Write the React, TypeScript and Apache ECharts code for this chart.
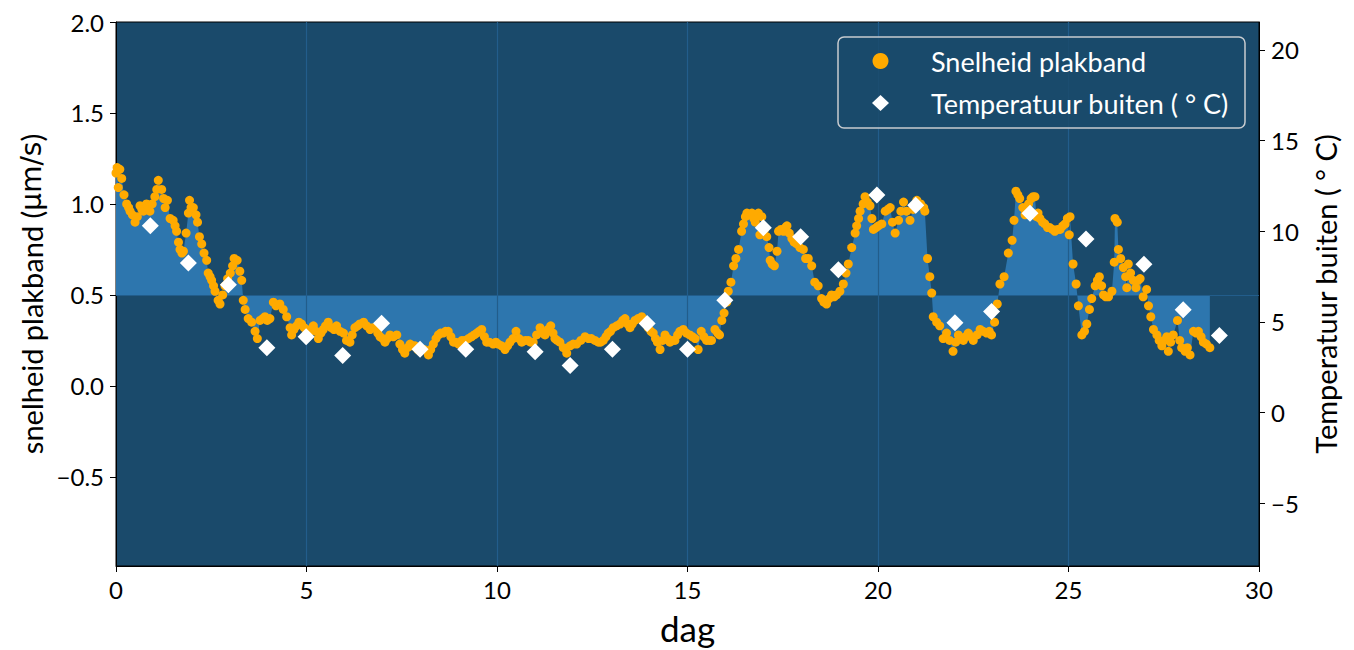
import React, { useEffect, useRef } from 'react';
import * as echarts from 'echarts';

// Speed of the tape (µm/s) as [day, value], split per period
const speedDays0to6: [number, number][] = [
  [0.0, 1.17], [0.03, 1.2], [0.06, 1.09], [0.1, 1.19], [0.15, 1.14], [0.21, 1.05], [0.28, 1.0], [0.33, 0.98],
  [0.37, 0.96], [0.43, 0.94], [0.5, 0.9], [0.56, 0.93], [0.63, 0.99], [0.68, 0.97], [0.72, 0.96], [0.8, 1.0],
  [0.85, 0.98], [0.89, 0.96], [0.95, 1.0], [1.02, 1.04], [1.07, 1.08], [1.11, 1.13], [1.2, 1.08], [1.25, 1.03],
  [1.29, 0.98], [1.35, 1.02], [1.42, 0.92], [1.5, 0.91], [1.55, 0.88], [1.59, 0.85], [1.64, 0.79], [1.68, 0.75],
  [1.73, 0.73], [1.77, 0.74], [1.84, 0.84], [1.9, 0.95], [1.93, 1.02], [1.97, 0.98], [2.03, 0.98], [2.1, 0.94],
  [2.14, 0.9], [2.19, 0.82], [2.25, 0.78], [2.31, 0.73], [2.38, 0.69], [2.42, 0.62], [2.47, 0.6], [2.51, 0.58],
  [2.56, 0.55], [2.6, 0.52], [2.68, 0.47], [2.73, 0.45], [2.8, 0.5], [2.86, 0.55], [2.93, 0.59], [3.0, 0.62],
  [3.06, 0.66], [3.1, 0.7], [3.18, 0.69], [3.25, 0.63], [3.3, 0.58], [3.34, 0.47], [3.39, 0.42], [3.47, 0.37],
  [3.56, 0.35], [3.65, 0.3], [3.71, 0.26], [3.78, 0.36], [3.85, 0.37], [3.91, 0.38], [3.97, 0.36], [4.04, 0.37],
  [4.13, 0.46], [4.2, 0.44], [4.3, 0.45], [4.39, 0.42], [4.48, 0.38], [4.57, 0.32], [4.61, 0.28], [4.67, 0.31],
  [4.74, 0.33], [4.8, 0.35], [4.87, 0.34], [4.94, 0.32], [5.0, 0.31], [5.09, 0.3], [5.18, 0.33], [5.25, 0.3],
  [5.31, 0.26], [5.38, 0.29], [5.44, 0.31], [5.5, 0.33], [5.57, 0.35], [5.65, 0.32], [5.72, 0.31], [5.79, 0.33],
  [5.88, 0.3], [5.97, 0.29],
];

const speedDays6to12: [number, number][] = [
  [6.05, 0.25], [6.14, 0.24], [6.2, 0.28], [6.27, 0.32], [6.34, 0.33], [6.4, 0.34], [6.5, 0.35], [6.58, 0.33],
  [6.67, 0.31], [6.74, 0.32], [6.8, 0.32], [6.87, 0.29], [6.93, 0.27], [7.0, 0.26], [7.06, 0.24], [7.12, 0.26],
  [7.19, 0.28], [7.28, 0.27], [7.37, 0.28], [7.45, 0.23], [7.52, 0.2], [7.58, 0.18], [7.65, 0.21], [7.72, 0.23],
  [7.78, 0.22], [7.85, 0.22], [7.92, 0.2], [7.98, 0.19], [8.08, 0.2], [8.2, 0.17], [8.26, 0.2], [8.33, 0.23],
  [8.4, 0.26], [8.46, 0.28], [8.52, 0.29], [8.59, 0.29], [8.65, 0.3], [8.72, 0.3], [8.79, 0.27], [8.86, 0.24],
  [8.92, 0.24], [8.99, 0.23], [9.08, 0.25], [9.16, 0.25], [9.25, 0.26], [9.33, 0.27], [9.4, 0.28], [9.47, 0.29],
  [9.53, 0.3], [9.6, 0.31], [9.67, 0.27], [9.73, 0.24], [9.8, 0.24], [9.9, 0.23], [9.97, 0.24], [10.03, 0.23],
  [10.12, 0.22], [10.21, 0.2], [10.28, 0.22], [10.34, 0.24], [10.42, 0.26], [10.5, 0.3], [10.58, 0.26], [10.65, 0.24],
  [10.74, 0.25], [10.82, 0.25], [10.88, 0.24], [10.95, 0.24], [11.04, 0.28], [11.13, 0.32], [11.2, 0.29], [11.26, 0.28],
  [11.34, 0.31], [11.41, 0.33], [11.47, 0.29], [11.52, 0.26], [11.58, 0.25], [11.65, 0.24], [11.74, 0.21], [11.83, 0.18],
  [11.92, 0.22], [12.0, 0.23],
];

const speedDays12to18: [number, number][] = [
  [12.09, 0.23], [12.2, 0.25], [12.31, 0.27], [12.4, 0.26], [12.48, 0.26], [12.57, 0.25], [12.66, 0.24], [12.72, 0.24],
  [12.79, 0.25], [12.86, 0.27], [12.92, 0.29], [12.98, 0.3], [13.05, 0.32], [13.14, 0.33], [13.23, 0.34], [13.3, 0.36],
  [13.36, 0.37], [13.43, 0.34], [13.49, 0.32], [13.55, 0.34], [13.62, 0.36], [13.7, 0.37], [13.8, 0.38], [13.88, 0.35],
  [13.97, 0.32], [14.04, 0.3], [14.1, 0.29], [14.16, 0.26], [14.21, 0.24], [14.28, 0.2], [14.35, 0.25], [14.41, 0.28],
  [14.48, 0.26], [14.54, 0.24], [14.6, 0.25], [14.67, 0.25], [14.74, 0.28], [14.8, 0.3], [14.89, 0.31], [14.97, 0.29],
  [15.06, 0.28], [15.13, 0.27], [15.2, 0.26], [15.28, 0.2], [15.36, 0.3], [15.43, 0.27], [15.5, 0.25], [15.57, 0.25],
  [15.63, 0.25], [15.72, 0.31], [15.79, 0.29], [15.84, 0.28], [15.9, 0.36], [15.96, 0.4], [16.03, 0.46], [16.07, 0.52],
  [16.14, 0.57], [16.21, 0.66], [16.27, 0.7], [16.34, 0.75], [16.42, 0.85], [16.47, 0.89], [16.52, 0.93], [16.56, 0.95],
  [16.62, 0.94], [16.69, 0.95], [16.74, 0.92], [16.78, 0.9], [16.82, 0.93], [16.86, 0.95], [16.9, 0.83], [16.95, 0.93],
  [17.02, 0.86], [17.08, 0.82], [17.14, 0.76], [17.17, 0.69], [17.22, 0.67], [17.28, 0.66], [17.35, 0.74], [17.39, 0.85],
  [17.45, 0.86], [17.52, 0.85], [17.57, 0.87], [17.61, 0.88], [17.67, 0.84], [17.74, 0.81], [17.8, 0.79], [17.87, 0.78],
  [17.95, 0.76], [18.04, 0.75],
];

const speedDays18to24: [number, number][] = [
  [18.1, 0.7], [18.17, 0.7], [18.26, 0.66], [18.34, 0.57], [18.43, 0.55], [18.52, 0.48], [18.58, 0.46], [18.65, 0.45],
  [18.72, 0.48], [18.78, 0.5], [18.85, 0.49], [18.91, 0.5], [19.0, 0.52], [19.09, 0.56], [19.16, 0.62], [19.22, 0.67],
  [19.31, 0.76], [19.4, 0.84], [19.44, 0.88], [19.49, 0.92], [19.53, 0.96], [19.61, 1.0], [19.66, 1.04], [19.72, 1.01],
  [19.79, 0.99], [19.84, 0.92], [19.88, 0.86], [19.95, 0.87], [20.01, 0.88], [20.1, 0.89], [20.19, 0.96], [20.26, 0.97],
  [20.32, 0.98], [20.38, 0.9], [20.45, 0.84], [20.54, 0.91], [20.6, 0.96], [20.67, 1.01], [20.75, 0.96], [20.84, 0.91],
  [20.92, 0.97], [21.02, 1.02], [21.12, 1.0], [21.2, 0.98], [21.23, 0.96], [21.3, 0.7], [21.36, 0.6], [21.41, 0.51],
  [21.45, 0.38], [21.54, 0.35], [21.62, 0.33], [21.71, 0.26], [21.8, 0.29], [21.88, 0.25], [21.97, 0.19], [22.04, 0.24],
  [22.11, 0.28], [22.18, 0.26], [22.24, 0.25], [22.3, 0.27], [22.37, 0.29], [22.44, 0.27], [22.5, 0.25], [22.6, 0.28],
  [22.68, 0.31], [22.76, 0.3], [22.85, 0.29], [22.92, 0.3], [22.98, 0.28], [23.06, 0.35], [23.13, 0.45], [23.2, 0.56],
  [23.31, 0.6], [23.42, 0.73], [23.52, 0.8], [23.57, 0.91], [23.62, 1.07], [23.67, 1.05], [23.72, 1.03], [23.8, 0.98],
  [23.86, 0.94], [23.95, 1.0], [24.02, 1.03], [24.07, 1.04],
];

const speedDays24to29: [number, number][] = [
  [24.12, 1.04], [24.16, 0.93], [24.2, 0.95], [24.25, 0.92], [24.32, 0.9], [24.38, 0.89], [24.45, 0.87], [24.51, 0.87],
  [24.58, 0.86], [24.64, 0.85], [24.71, 0.86], [24.78, 0.86], [24.85, 0.88], [24.91, 0.89], [24.97, 0.92], [25.02, 0.83],
  [25.04, 0.93], [25.12, 0.67], [25.2, 0.56], [25.26, 0.44], [25.35, 0.28], [25.42, 0.3], [25.48, 0.34], [25.55, 0.42],
  [25.61, 0.48], [25.7, 0.55], [25.76, 0.58], [25.81, 0.6], [25.87, 0.55], [25.92, 0.5], [25.98, 0.49], [26.05, 0.49],
  [26.14, 0.52], [26.2, 0.68], [26.22, 0.92], [26.28, 0.9], [26.31, 0.75], [26.37, 0.7], [26.44, 0.65], [26.5, 0.6],
  [26.53, 0.54], [26.57, 0.67], [26.63, 0.62], [26.7, 0.58], [26.77, 0.54], [26.83, 0.58], [26.88, 0.59], [26.96, 0.49],
  [27.05, 0.53], [27.1, 0.44], [27.16, 0.38], [27.23, 0.31], [27.32, 0.28], [27.38, 0.25], [27.45, 0.22], [27.52, 0.25],
  [27.58, 0.27], [27.62, 0.19], [27.68, 0.24], [27.75, 0.28], [27.86, 0.36], [27.92, 0.25], [27.97, 0.21], [28.06, 0.19],
  [28.12, 0.21], [28.19, 0.17], [28.28, 0.3], [28.35, 0.29], [28.41, 0.3], [28.48, 0.27], [28.54, 0.24], [28.62, 0.23],
  [28.71, 0.21],
];

// Outside temperature (°C), one reading per day
const tempDays = [0.9, 1.9, 2.95, 3.96, 4.99, 5.95, 6.97, 7.98, 9.18, 11.0, 11.92, 13.03, 13.94, 15.0, 15.98, 16.99,
  17.97, 18.96, 19.97, 20.99, 22.02, 22.98, 23.99, 25.46, 26.98, 28.01, 28.96];
const tempValues = [10.3, 8.25, 7.05, 3.58, 4.18, 3.15, 4.93, 3.5, 3.5, 3.35, 2.6, 3.5, 4.92, 3.5, 6.2, 10.2,
  9.7, 7.88, 12.0, 11.43, 4.96, 5.58, 11.0, 9.57, 8.18, 5.67, 4.25];

// Axes
const xTicks = [0, 5, 10, 15, 20, 25, 30];
const speedTicks = [-0.5, 0, 0.5, 1, 1.5, 2];
const tempTicks = [-5, 0, 5, 10, 15, 20];
const dayMarks = [5, 10, 15, 20, 25];
const speedBaseline = 0.5;

const SPEED_NAME = 'Snelheid plakband';
const TEMP_NAME = 'Temperatuur buiten ( ° C)';

export default function App() {
  const ref = useRef<HTMLDivElement>(null);

  useEffect(() => {
    if (!ref.current) return;
    const chart = echarts.init(ref.current, undefined, { renderer: 'svg' });
    const speed = [...speedDays0to6, ...speedDays6to12, ...speedDays12to18, ...speedDays18to24, ...speedDays24to29];
    const temps = tempDays.map((d, i) => [d, tempValues[i]]);
    const fmt = (v: number, digits: number) => (v < 0 ? '\u2212' : '') + Math.abs(v).toFixed(digits);

    const bg = '#1a4a6b';
    const fill = '#2d76ae';
    const markColor = '#225d8b';
    const font = 'Lato';

    chart.setOption({
      animation: false,
      backgroundColor: '#ffffff',
      textStyle: { fontFamily: font },
      grid: {
        left: 116, right: 95, top: 22, bottom: 84,
        show: true, backgroundColor: bg, borderColor: '#000', borderWidth: 1,
      },
      xAxis: {
        type: 'value', min: 0, max: 30, interval: 5,
        name: 'dag', nameLocation: 'middle', nameGap: 44,
        nameTextStyle: { fontSize: 35, color: '#000', fontFamily: font },
        axisLine: { show: true, onZero: false, lineStyle: { color: '#000', width: 1 } },
        axisTick: { show: true, inside: false, length: 6, lineStyle: { color: '#000', width: 1 } },
        axisLabel: { fontSize: 24, color: '#000', margin: 11, fontFamily: font, formatter: (v: number) => (xTicks.includes(v) ? String(v) : '') },
        splitLine: { show: false },
      },
      yAxis: [
        {
          type: 'value', min: -0.99, max: 2, position: 'left',
          name: '{a|snelheid plakband (}{b|µm/s}{a|)}', nameLocation: 'middle', nameRotate: 90, nameGap: 62,
          nameTextStyle: {
            color: '#000',
            rich: {
              a: { fontSize: 29, fontFamily: font, color: '#000' },
              b: { fontSize: 28, fontFamily: 'DejaVu Sans', color: '#000' },
            },
          },
          axisLine: { show: true, onZero: false, lineStyle: { color: '#000', width: 1 } },
          axisTick: { show: true, inside: false, length: 6, customValues: speedTicks, lineStyle: { color: '#000' } },
          axisLabel: { customValues: speedTicks, fontSize: 24, color: '#000', margin: 12, fontFamily: font, formatter: (v: number) => fmt(v, 1) },
          splitLine: { show: false },
        },
        {
          type: 'value', min: -8.46, max: 21.54, position: 'right',
          name: TEMP_NAME, nameLocation: 'middle', nameRotate: 90, nameGap: 52,
          nameTextStyle: { fontSize: 29, color: '#000', fontFamily: font },
          axisLine: { show: true, onZero: false, lineStyle: { color: '#000', width: 1 } },
          axisTick: { show: true, inside: false, length: 6, customValues: tempTicks, lineStyle: { color: '#000' } },
          axisLabel: { customValues: tempTicks, fontSize: 24, color: '#000', margin: 12, fontFamily: font, formatter: (v: number) => fmt(v, 0) },
          splitLine: { show: false },
        },
      ],
      legend: {
        orient: 'vertical', left: 872, top: 47, z: 8,
        itemWidth: 17, itemHeight: 16, itemGap: 14, padding: 0,
        textStyle: { color: '#ffffff', fontSize: 27, fontFamily: font, lineHeight: 28, padding: [0, 0, 0, 37] },
        data: [{ name: SPEED_NAME, icon: 'circle' }, { name: TEMP_NAME, icon: 'diamond' }],
      },
      graphic: [
        {
          type: 'rect', z: 6, silent: true,
          shape: { x: 838, y: 37, width: 407, height: 91, r: 6 },
          style: { fill: 'rgba(26,74,107,0.85)', stroke: '#c8ccd0', lineWidth: 1.5 },
        },
      ],
      series: [
        {
          name: 'fill',
          type: 'line',
          xAxisIndex: 0, yAxisIndex: 0,
          data: speed,
          showSymbol: false,
          symbol: 'none',
          lineStyle: { width: 0, opacity: 0 },
          areaStyle: { color: fill, opacity: 1, origin: speedBaseline },
          z: 2,
          silent: true,
          markLine: {
            z: 3, silent: true, symbol: ['none', 'none'],
            label: { show: false },
            lineStyle: { color: markColor, width: 1.2, type: 'solid' },
            data: [...dayMarks.map((d) => ({ xAxis: d })), { yAxis: speedBaseline }],
          },
        },
        {
          name: SPEED_NAME,
          type: 'scatter',
          xAxisIndex: 0, yAxisIndex: 0,
          data: speed,
          symbol: 'circle',
          symbolSize: 9,
          itemStyle: { color: '#ffaa00', opacity: 1 },
          z: 4,
        },
        {
          name: TEMP_NAME,
          type: 'scatter',
          xAxisIndex: 0, yAxisIndex: 1,
          data: temps,
          symbol: 'diamond',
          symbolSize: 17,
          itemStyle: { color: '#ffffff', opacity: 1 },
          z: 5,
        },
      ],
    });
    return () => chart.dispose();
  }, []);

  return (
    <div
      ref={ref}
      style={{ position: 'fixed', left: 0, top: 0, width: 1354, height: 650, background: '#ffffff' }}
    />
  );
}
